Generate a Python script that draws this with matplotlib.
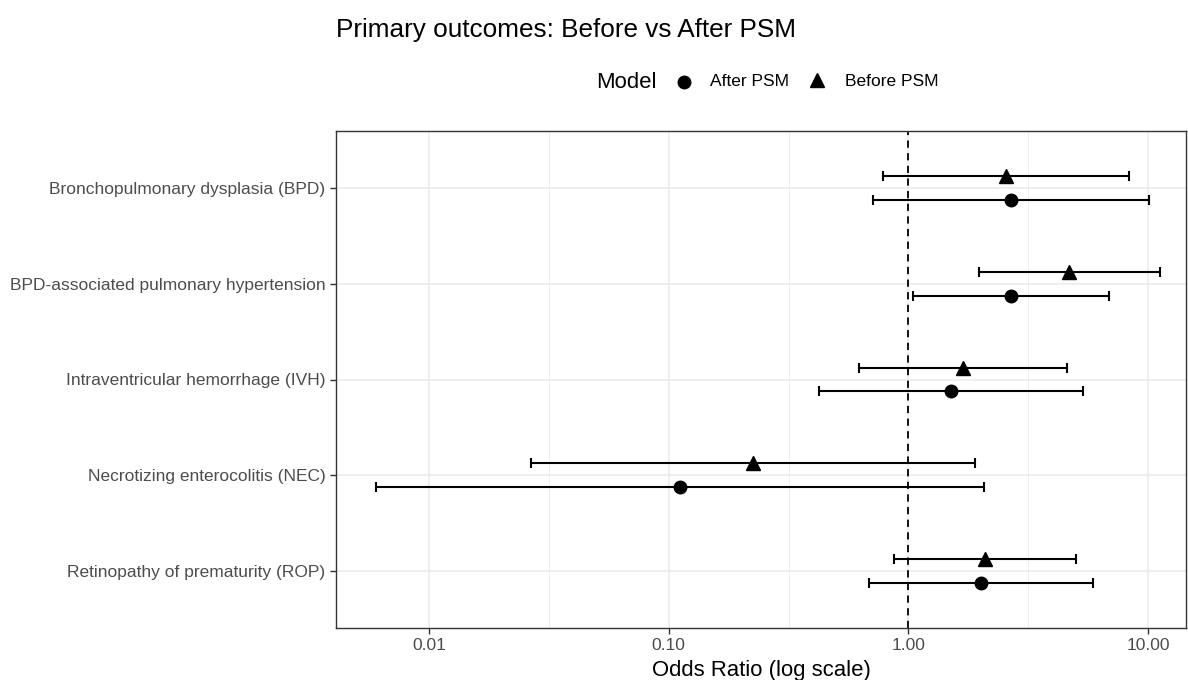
import matplotlib
matplotlib.use("Agg")
import matplotlib.pyplot as plt
from matplotlib.lines import Line2D
import numpy as np

plt.rcParams['font.family'] = ['Liberation Sans', 'DejaVu Sans']

# data
outcomes = [
    "Bronchopulmonary dysplasia (BPD)",
    "BPD-associated pulmonary hypertension",
    "Intraventricular hemorrhage (IVH)",
    "Necrotizing enterocolitis (NEC)",
    "Retinopathy of prematurity (ROP)",
]
before_or = [2.55, 4.69, 1.69, 0.224, 2.09]
before_lo = [0.785, 1.97, 0.623, 0.0266, 0.869]
before_hi = [8.33, 11.2, 4.60, 1.90, 5.01]
after_or = [2.68, 2.68, 1.51, 0.111, 2.01]
after_lo = [0.71, 1.046, 0.425, 0.00603, 0.688]
after_hi = [10.1, 6.86, 5.34, 2.07, 5.88]
xticks = [0.01, 0.1, 1, 10]
xticklabels = ["0.01", "0.10", "1.00", "10.00"]

W, H = 1188, 680
fig = plt.figure(figsize=(W / 100, H / 100), dpi=100)
ax = fig.add_axes([336 / W, 52 / H, 850 / W, 497 / H])

n = len(outcomes)
ypos = np.arange(n, 0, -1)
dodge = 0.125

# grid
for v in xticks:
    ax.axvline(v, color="#EBEBEB", lw=1.1, zorder=0)
for v in [10 ** -1.5, 10 ** -0.5, 10 ** 0.5]:
    ax.axvline(v, color="#EBEBEB", lw=0.6, zorder=0)
for y in ypos:
    ax.axhline(y, color="#EBEBEB", lw=1.1, zorder=0)

ax.axvline(1, color="black", lw=1.3, ls=(0, (4, 3)), zorder=1)

b = np.array(before_or)
a = np.array(after_or)
ax.errorbar(b, ypos + dodge,
            xerr=[b - np.array(before_lo), np.array(before_hi) - b],
            fmt="^", color="black", ms=10, capsize=3.5, elinewidth=1.5,
            capthick=1.5, zorder=3)
ax.errorbar(a, ypos - dodge,
            xerr=[a - np.array(after_lo), np.array(after_hi) - a],
            fmt="o", color="black", ms=9, capsize=3.5, elinewidth=1.5,
            capthick=1.5, zorder=3)

ax.set_xscale("log")
ax.set_xlim(10 ** -2.3875, 10 ** 1.158)
ax.set_ylim(0.4, n + 0.6)
ax.set_xticks(xticks)
ax.set_xticklabels(xticklabels)
ax.xaxis.set_minor_locator(matplotlib.ticker.NullLocator())
ax.set_yticks(ypos)
ax.set_yticklabels(outcomes)
ax.tick_params(axis="both", colors="#333333", labelcolor="#4D4D4D",
               labelsize=12.5, length=4, width=1)
for s in ax.spines.values():
    s.set_color("#333333")
    s.set_linewidth(1)

ax.set_xlabel("Odds Ratio (log scale)", fontsize=15.9, labelpad=5)

fig.text(336 / W, 1 - 30 / H, "Primary outcomes: Before vs After PSM",
         fontsize=18.8, va="center", ha="left")

# legend drawn by hand: title to the left of the keys, like ggplot
ly = 1 - 82 / H
fig.text(596 / W, ly, "Model", fontsize=15.9, va="center", ha="left")
fig.add_artist(Line2D([684 / W], [ly], marker="o", ls="none", color="black",
                      ms=9, transform=fig.transFigure))
fig.text(710 / W, ly, "After PSM", fontsize=12.5, va="center", ha="left")
fig.add_artist(Line2D([817 / W], [ly + 2 / H], marker="^", ls="none",
                      color="black", ms=10, transform=fig.transFigure))
fig.text(845 / W, ly, "Before PSM", fontsize=12.5, va="center", ha="left")

fig.savefig("out.png", dpi=100)
